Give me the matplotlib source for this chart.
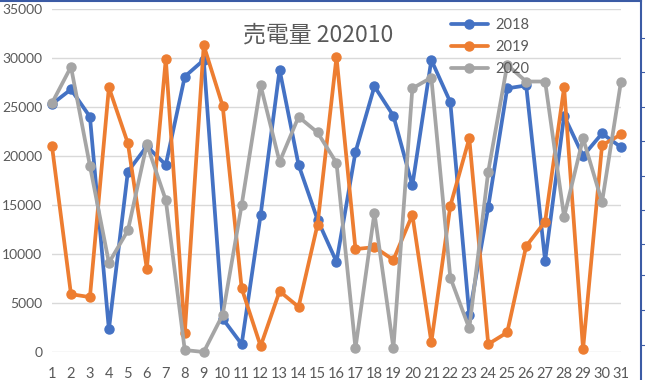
import matplotlib.pyplot as plt
from matplotlib.lines import Line2D

plt.rcParams['font.family'] = ['Lato', 'Noto Sans CJK JP', 'DejaVu Sans']

days = list(range(1, 32))

v2018 = [25300, 26800, 24000, 2300, 18400, 21000, 19100, 28100, 29800, 3400,
         800, 14000, 28800, 19100, 13500, 9200, 20400, 27100, 24100, 17000,
         29800, 25500, 3800, 14800, 26900, 27200, 9300, 24100, 20000, 22300,
         20900]
v2019 = [21000, 5900, 5600, 27000, 21300, 8500, 29900, 1900, 31300, 25100,
         6500, 600, 6200, 4600, 13000, 30100, 10500, 10700, 9400, 14000,
         1000, 14900, 21800, 800, 2000, 10800, 13300, 27000, 300, 21100,
         22200]
v2020 = [25400, 29100, 19000, 9100, 12400, 21200, 15500, 200, 0, 3800,
         15000, 27200, 19400, 24000, 22400, 19300, 400, 14200, 400, 26900,
         28000, 7600, 2400, 18400, 29300, 27600, 27600, 13800, 21800, 15300,
         27600]

series = [("2018", v2018, "#4472C4"),
          ("2019", v2019, "#ED7D31"),
          ("2020", v2020, "#A5A5A5")]

fig = plt.figure(figsize=(6.45, 3.8), dpi=100)
ax = fig.add_axes([52 / 645, 28 / 380, 569 / 645, 343 / 380])

for name, vals, col in series:
    ax.plot(days, vals, color=col, lw=2.7, marker='o', ms=6.5,
            label=name, clip_on=False, solid_capstyle='round')

ax.set_xlim(1, 31)
ax.set_ylim(0, 35000)
ax.set_yticks(range(0, 35001, 5000))
ax.set_xticks(days)
ax.grid(axis='y', color='#D9D9D9', lw=1)
ax.set_axisbelow(True)
for s in ax.spines.values():
    s.set_visible(False)
ax.tick_params(length=0, colors='#595959', labelsize=10.5)
ax.tick_params(axis='y', pad=7, labelsize=10)
ax.tick_params(axis='x', pad=11)

fig.text(318 / 645, 1 - 35 / 380, "売電量 202010", ha='center', va='center',
         fontsize=16.5, color='#595959',
         family=['Noto Sans CJK JP', 'DejaVu Sans'])

ax.legend(loc='upper left', bbox_to_anchor=(438 / 645, 1 - 5 / 380),
          bbox_transform=fig.transFigure, frameon=False, fontsize=10.5,
          labelcolor='#595959', handlelength=2.5, labelspacing=0.55,
          handletextpad=0.5)

# Excel selection frame
fig.add_artist(Line2D([0, 641 / 645], [1 - 1 / 380] * 2, color='#3B5BA5', lw=1.5))
fig.add_artist(Line2D([641 / 645] * 2, [0, 1], color='#3B5BA5', lw=1.5))
for yy in [38, 72, 107, 141, 176, 210, 244, 275, 310, 345]:
    fig.add_artist(Line2D([641 / 645, 1], [1 - yy / 380] * 2, color='#3B5BA5', lw=0.8))

fig.savefig("out.png", dpi=100)
